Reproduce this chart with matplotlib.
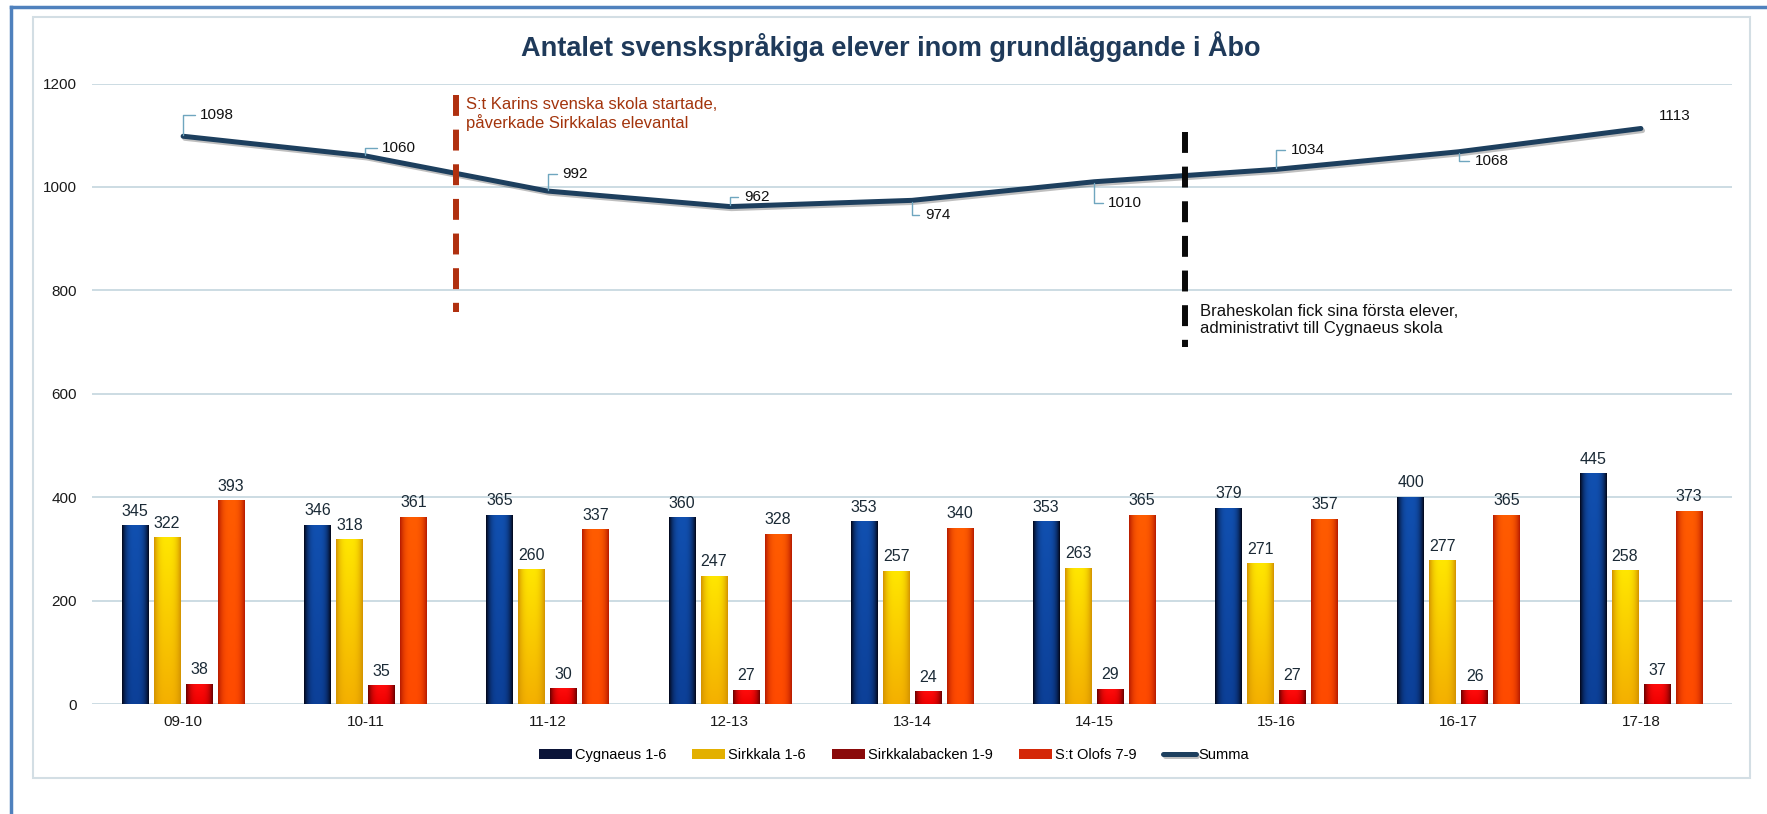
#Chart: number of Swedish-speaking pupils in basic education in Turku (Åbo), 2009-2018
#Bars per school plus a line for the total (Summa)

import numpy as np
import matplotlib
matplotlib.use('Agg')
import matplotlib.pyplot as plt
import matplotlib.patheffects as pe
from matplotlib.colors import to_rgb

plt.rcParams['font.family'] = ['Liberation Sans', 'DejaVu Sans']

#Data
years = ['09-10', '10-11', '11-12', '12-13', '13-14', '14-15', '15-16', '16-17', '17-18']
cygnaeus = [345, 346, 365, 360, 353, 353, 379, 400, 445]
sirkkala = [322, 318, 260, 247, 257, 263, 271, 277, 258]
sirkkalabacken = [38, 35, 30, 27, 24, 29, 27, 26, 37]
st_olofs = [393, 361, 337, 328, 340, 365, 357, 365, 373]
summa = [1098, 1060, 992, 962, 974, 1010, 1034, 1068, 1113]

series_names = ['Cygnaeus 1-6', 'Sirkkala 1-6', 'Sirkkalabacken 1-9', 'S:t Olofs 7-9']

#Events (marked between two school years)
event1_text = 'S:t Karins svenska skola startade,\npåverkade Sirkkalas elevantal'
event1_after = '10-11'
event1_span = (758, 1178)
event2_text = 'Braheskolan fick sina första elever,\nadministrativt till Cygnaeus skola'
event2_after = '14-15'
event2_span = (690, 1106)

#Label offsets (pixels, right/up) for the Summa data labels
summa_offsets = [(17, 21), (17, 8), (15, 17), (14, 10), (13, -15), (14, -21), (14, 19), (16, -9), (18, 12)]

#Colours: legend colour, gradient top, gradient bottom, gradient edge
bar_styles = [
    ('#0b1438', '#1150b0', '#0c4098', '#03081c'),
    ('#e3b000', '#ffe600', '#f4b000', '#d49400'),
    ('#8a0a0a', '#ff0c0c', '#f00000', '#6e0000'),
    ('#d42808', '#ff5c00', '#ff4a00', '#b81c00'),
]
line_color = '#1d3f5e'
text_color = '#1b2a36'

W, H = 1767, 814
fig = plt.figure(figsize=(W / 100, H / 100), dpi=100)
fig.patch.set_facecolor('white')

#Frames round the chart
fig.add_artist(plt.Rectangle((33 / W, 1 - 778 / H), (1750 - 33) / W, (778 - 17) / H,
                             transform=fig.transFigure, fill=False, ec='#d3dee4', lw=1.5))
fig.add_artist(plt.Line2D([11 / W, 11 / W], [0, 1 - 7 / H], transform=fig.transFigure,
                          color='#4f81bd', lw=2.5))
fig.add_artist(plt.Line2D([11 / W, 1], [1 - 7 / H, 1 - 7 / H], transform=fig.transFigure,
                          color='#4f81bd', lw=2.5))

ax = fig.add_axes([92 / W, 1 - 704 / H, 1640 / W, (704 - 83.5) / H])

x = np.arange(len(years))
step = 0.1756
width = 0.145
all_bars = [cygnaeus, sirkkala, sirkkalabacken, st_olofs]

containers = []
for k, vals in enumerate(all_bars):
    leg_c, top_c, bot_c, edge_c = bar_styles[k]
    bc = ax.bar(x + (k - 1.5) * step, vals, width, color=leg_c, label=series_names[k], zorder=2)
    containers.append(bc)
    #gradient fill for each bar
    t = np.linspace(-1, 1, 40)
    prof = 1 - np.abs(t) ** 3
    v = np.linspace(0, 1, 60)[:, None]
    center = np.array(to_rgb(top_c)) * (1 - v) + np.array(to_rgb(bot_c)) * v
    edge = np.array(to_rgb(edge_c))
    img = edge + (center[:, None, :] - edge) * prof[None, :, None]
    for p in bc.patches:
        ax.imshow(img, extent=[p.get_x(), p.get_x() + p.get_width(), 0, p.get_height()],
                  aspect='auto', origin='upper', zorder=2.5, interpolation='bilinear')
    ax.bar_label(bc, padding=5, fontsize=11.5, color=text_color)

#Summa line
line, = ax.plot(x, summa, color=line_color, lw=3.6, label='Summa', zorder=4,
                solid_capstyle='round',
                path_effects=[pe.SimpleLineShadow(offset=(1.2, -1.5), alpha=0.25), pe.Normal()])

for i, val in enumerate(summa):
    dx, dy = summa_offsets[i]
    arrow = None
    if i < len(summa) - 1:
        arrow = dict(arrowstyle='-', color='#6fa6bf', lw=1, shrinkA=2, shrinkB=1,
                     relpos=(0, 0.5), connectionstyle='angle,angleA=0,angleB=90,rad=0')
    ax.annotate(str(val), (x[i], val), xytext=(dx * 0.72, dy * 0.72), textcoords='offset points',
                ha='left', va='center', fontsize=11, color='#111111', arrowprops=arrow, zorder=6)

#Event markers
e1 = years.index(event1_after) + 0.5
ax.plot([e1, e1], [event1_span[1], event1_span[0]], color='#b0300f', lw=4.3,
        dashes=(3.5, 2.3), dash_capstyle='butt', zorder=5)
ax.text(e1 + 0.055, 1141, event1_text, fontsize=12, color='#a3340c', ha='left', va='center',
        linespacing=1.15)

e2 = years.index(event2_after) + 0.5
ax.plot([e2, e2], [event2_span[1], event2_span[0]], color='#0a0a0a', lw=4.3,
        dashes=(3.5, 2.3), dash_capstyle='butt', zorder=5)
ax.text(e2 + 0.08, 743, event2_text, fontsize=12, color='#111111', ha='left', va='center',
        linespacing=1.15)

#Axes styling
ax.set_xlim(-0.5, len(years) - 0.5)
ax.set_ylim(0, 1200)
ax.set_xticks(x)
ax.set_xticklabels(years)
ax.set_yticks(range(0, 1201, 200))
ax.tick_params(axis='x', length=0, pad=8, labelsize=11, colors='#1a1a1a')
ax.tick_params(axis='y', length=0, pad=11, labelsize=11, colors='#1a1a1a')
ax.yaxis.grid(True, color='#c8d9e1', lw=1.3)
ax.set_axisbelow(True)
for s in ax.spines.values():
    s.set_visible(False)

fig.text(0.504, 1 - 47 / H, 'Antalet svenskspråkiga elever inom grundläggande i Åbo',
         ha='center', va='center', fontsize=19.5, fontweight='bold', color='#1f3a5a')

fig.legend(handles=containers + [line], labels=series_names + ['Summa'],
           loc='center', bbox_to_anchor=(0.506, 1 - 755 / H), ncol=5, frameon=False,
           fontsize=10.5, handlelength=2.26, handletextpad=0.2, columnspacing=1.8)

fig.savefig('out.png', dpi=100)
